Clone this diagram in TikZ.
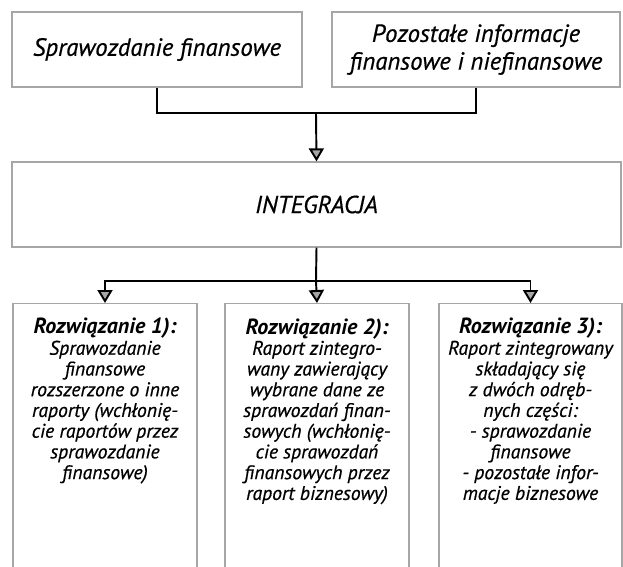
\documentclass[tikz,border=0pt]{standalone}
\usepackage{fontspec}
\setmainfont{PT Sans}[ItalicFeatures={FakeBold=0.6}]
\usetikzlibrary{arrows.meta,positioning}

\begin{document}
\begin{tikzpicture}[
		x=0.02cm, y=-0.02cm,
		box/.style = {draw=gray!70, line width=0.7pt, align=center, inner sep=0pt},
		topbox/.style = {box, minimum width=5.8cm, minimum height=1.5cm, font=\fontsize{14.1}{15.8}\selectfont\itshape},
		solbox/.style = {box, anchor=north, minimum width=3.68cm, minimum height=5.6cm},
		soltext/.style = {align=center, inner sep=0pt, font=\fontsize{11.2}{11.8}\selectfont\itshape},
		conn/.style = {line width=1.1pt, black},
		arr/.style = {-{Triangle[length=0.26cm, width=0.3cm, fill=gray!70]}},
	]
	\newcommand\solhead[1]{{\fontsize{12.5}{13}\selectfont\bfseries #1}}
	\clip (0,0) rectangle (623,566);

	% zrodla
	\node[topbox] (fin) at (157,49.5) {Sprawozdanie finansowe};
	\node[topbox, minimum width=5.76cm] (other) at (476,49.5) {Pozostałe informacje\\finansowe i niefinansowe};

	% integracja
	\node[box, minimum width=12.18cm, minimum height=1.7cm, font=\fontsize{14}{16}\selectfont\itshape] (integ) at (316.5,204.5) {INTEGRACJA};

	% rozwiazania
	\node[solbox] (sol1) at (105,303) {};
	\node[solbox] (sol2) at (317,303) {};
	\node[solbox, minimum width=3.66cm] (sol3) at (530.5,303) {};

	\node[soltext, below=0.3cm of sol1.north] (txt1) {\solhead{Rozwiązanie 1):}\\Sprawozdanie\\finansowe\\rozszerzone o inne\\raporty (wchłonię-\\cie raportów przez\\sprawozdanie\\finansowe)};
	\node[soltext, below=0.3cm of sol2.north] (txt2) {\solhead{Rozwiązanie 2):}\\Raport zintegro-\\wany zawierający\\wybrane dane ze\\sprawozdań finan-\\sowych (wchłonię-\\cie sprawozdań\\finansowych przez\\raport biznesowy)};
	\node[soltext, below=0.3cm of sol3.north] (txt3) {\solhead{Rozwiązanie 3):}\\Raport zintegrowany\\składający się\\z dwóch odręb-\\nych części:\\- sprawozdanie\\finansowe\\- pozostałe infor-\\macje biznesowe};

	\coordinate (join) at (316,113);
	\coordinate (split) at (316,281);

	\draw[conn] (fin.south) |- (join) -| (other.south);
	\draw[conn, arr] (join) -- (integ.north);
	\draw[conn] (integ.south) -- (split);
	\draw[conn, arr] (split) -| (sol1.north);
	\draw[conn, arr] (split) -- (sol2.north);
	\draw[conn, arr] (split) -| (sol3.north);
\end{tikzpicture}
\end{document}
